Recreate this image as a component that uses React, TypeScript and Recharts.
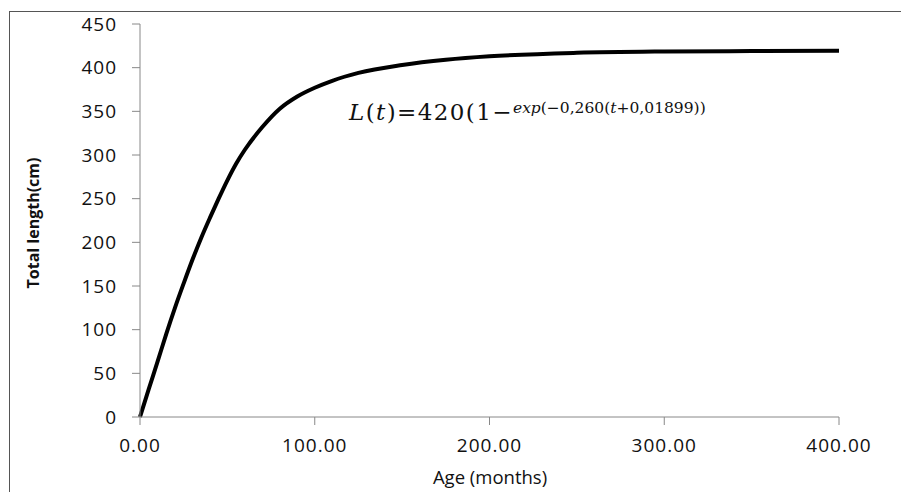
import { Line, LineChart, XAxis, YAxis } from 'recharts';

// Age (months) and total length (cm)
const ages = [0, 5, 10, 15, 20, 25, 30, 35, 40, 45, 50, 55, 60, 70, 80, 90, 100, 110, 125, 150, 175, 200, 250, 300, 350, 400];
const lengths = [0, 32, 63, 95, 125, 153, 180, 205, 228, 250, 271, 290, 306, 332, 353, 367, 377, 385, 394, 403, 409, 413, 417, 418.5, 419, 419.3];

const xTicks = [0, 100, 200, 300, 400];
const yTicks = [0, 50, 100, 150, 200, 250, 300, 350, 400, 450];

const data = ages.map((age, i) => ({ age, length: lengths[i] }));

const tickFont = { fontSize: 19, fill: '#111', fontFamily: 'Open Sans', letterSpacing: 1 };

export default function App() {
    return (
        <div style={{ position: 'relative', width: 901, height: 492, overflow: 'hidden', background: '#fff' }}>
            <style>{'body{margin:0}'}</style>
            <div
                style={{
                    position: 'absolute',
                    left: 9,
                    top: 11,
                    width: 1000,
                    height: 600,
                    border: '1px solid #555',
                }}
            />
            <LineChart
                width={901}
                height={492}
                data={data}
                margin={{ top: 24, right: 62, bottom: 45, left: 0 }}
                style={{ position: 'absolute', left: 0, top: 0 }}
            >
                <XAxis
                    dataKey="age"
                    type="number"
                    domain={[0, 400]}
                    ticks={xTicks}
                    tickFormatter={(v: number) => v.toFixed(2)}
                    tick={tickFont}
                    tickSize={8}
                    tickMargin={14}
                    height={30}
                    stroke="#888"
                />
                <YAxis
                    dataKey="length"
                    type="number"
                    domain={[0, 450]}
                    ticks={yTicks}
                    tick={tickFont}
                    tickSize={8}
                    tickMargin={15}
                    width={140}
                    stroke="#888"
                />
                <Line
                    type="monotone"
                    dataKey="length"
                    stroke="#000"
                    strokeWidth={4}
                    dot={false}
                    isAnimationActive={false}
                />
            </LineChart>
            <div
                style={{
                    position: 'absolute',
                    left: 420,
                    top: 464,
                    width: 140,
                    textAlign: 'center',
                    fontFamily: 'Open Sans',
                    fontSize: 18.5,
                    color: '#111',
                    whiteSpace: 'nowrap',
                }}
            >
                Age (months)
            </div>
            <div
                style={{
                    position: 'absolute',
                    left: 33,
                    top: 223,
                    transform: 'translate(-50%, -50%) rotate(-90deg)',
                    fontFamily: 'Open Sans',
                    fontWeight: 700,
                    fontSize: 16,
                    color: '#111',
                    whiteSpace: 'nowrap',
                }}
            >
                Total length(cm)
            </div>
            <div
                style={{
                    position: 'absolute',
                    left: 349,
                    top: 99,
                    fontFamily: 'DejaVu Serif',
                    fontSize: 23,
                    letterSpacing: 1.4,
                    color: '#111',
                    whiteSpace: 'nowrap',
                }}
            >
                <i>L</i>(<i>t</i>)=420(1−
                <sup style={{ fontSize: 15.5, letterSpacing: 0, verticalAlign: 7 }}>
                    <i>exp</i>(−0,260(<i>t</i>+0,01899))
                </sup>
            </div>
        </div>
    );
}
